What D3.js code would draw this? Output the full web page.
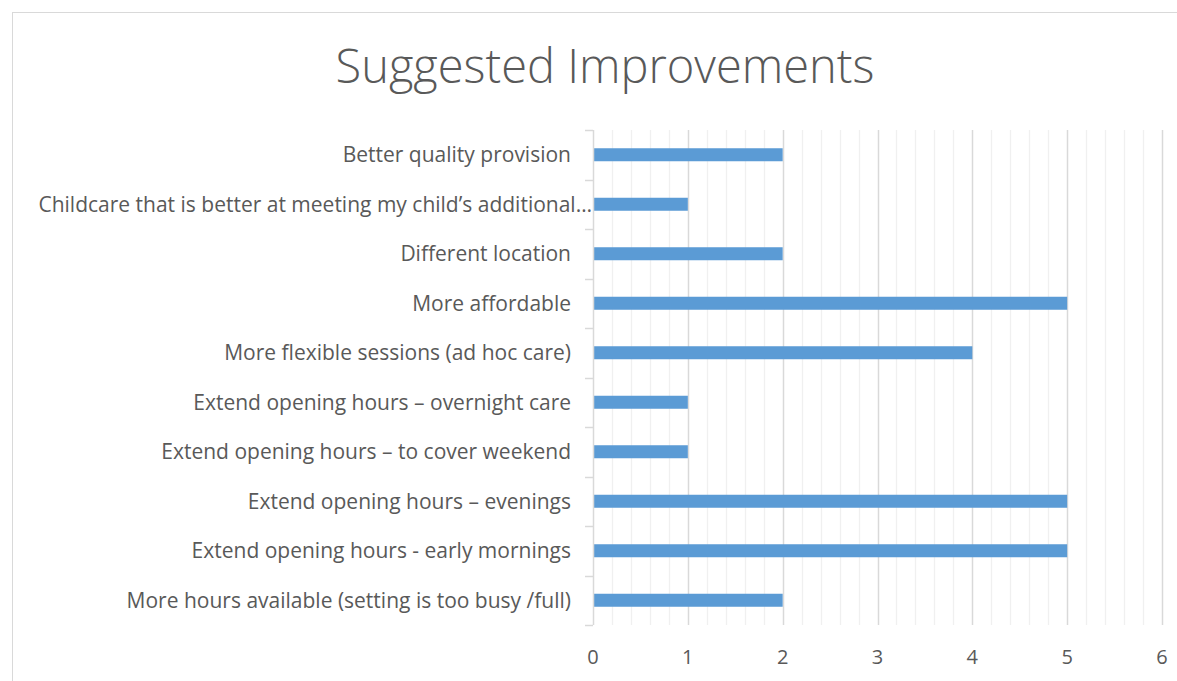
<!DOCTYPE html>
<html>
<head>
<meta charset="utf-8">
<script src="https://cdn.jsdelivr.net/npm/d3@7"></script>
<style>
  body { margin: 0; background: #fff; }
  text { font-family: "Open Sans", "Noto Sans", sans-serif; fill: #595959; }
</style>
</head>
<body>
<div id="chart"></div>
<script>
// categories top to bottom, as in the picture
var categories = [
  "Better quality provision",
  "Childcare that is better at meeting my child\u2019s additional\u2026",
  "Different location",
  "More affordable",
  "More flexible sessions (ad hoc care)",
  "Extend opening hours \u2013 overnight care",
  "Extend opening hours \u2013 to cover weekend",
  "Extend opening hours \u2013 evenings",
  "Extend opening hours - early mornings",
  "More hours available (setting is too busy /full)"
];
var counts = [2, 1, 2, 5, 4, 1, 1, 5, 5, 2];
var xTicks = [0, 1, 2, 3, 4, 5, 6];

var W = 1177, H = 681;
// plot area (top is a reserved window name, so use plotTop)
var plotLeft = 593, plotRight = 1162, plotTop = 130, plotBottom = 625;

var svg = d3.select("#chart").append("svg")
  .attr("width", W).attr("height", H);

// outer chart border
svg.append("rect")
  .attr("x", 12.5).attr("y", 12.5)
  .attr("width", W + 20).attr("height", H + 20)
  .attr("fill", "none").attr("stroke", "#d9d9d9");

var x = d3.scaleLinear().domain([0, 6]).range([plotLeft, plotRight]);
var y = d3.scaleBand().domain(categories).range([plotTop, plotBottom]);

// minor gridlines
var minor = d3.range(0, 30).map(function(i) { return i * 0.2; }).filter(function(v, i) { return i % 5 != 0; });
svg.append("g").selectAll("line")
  .data(minor).enter().append("line")
  .attr("x1", function(d) { return Math.round(x(d)) + 0.5; })
  .attr("x2", function(d) { return Math.round(x(d)) + 0.5; })
  .attr("y1", plotTop).attr("y2", plotBottom)
  .attr("stroke", "#f0f0f0").attr("stroke-width", 1.3);

// major gridlines
svg.append("g").selectAll("line")
  .data(xTicks.slice(1)).enter().append("line")
  .attr("x1", function(d) { return Math.round(x(d)) + 0.5; })
  .attr("x2", function(d) { return Math.round(x(d)) + 0.5; })
  .attr("y1", plotTop).attr("y2", plotBottom)
  .attr("stroke", "#d9d9d9").attr("stroke-width", 1.5);

// bars
var barH = 13;
svg.append("g").selectAll("rect")
  .data(counts).enter().append("rect")
  .attr("x", x(0))
  .attr("y", function(d, i) { return y(categories[i]) + y.bandwidth() / 2 - barH / 2; })
  .attr("width", function(d) { return x(d) - x(0); })
  .attr("height", barH)
  .attr("fill", "#5b9bd5");

// y axis line and ticks
svg.append("line")
  .attr("x1", plotLeft + 0.5).attr("x2", plotLeft + 0.5)
  .attr("y1", plotTop).attr("y2", plotBottom)
  .attr("stroke", "#d9d9d9").attr("stroke-width", 1.5);
svg.append("g").selectAll("line")
  .data(d3.range(categories.length + 1)).enter().append("line")
  .attr("x1", plotLeft - 8).attr("x2", plotLeft)
  .attr("y1", function(d) { return Math.round(plotTop + d * y.step()) + 0.5; })
  .attr("y2", function(d) { return Math.round(plotTop + d * y.step()) + 0.5; })
  .attr("stroke", "#d9d9d9").attr("stroke-width", 1.5);

// category labels
svg.append("g").selectAll("text")
  .data(categories).enter().append("text")
  .attr("x", function(d, i) { return i == 1 ? 592 : 571; })
  .attr("y", function(d) { return y(d) + y.bandwidth() / 2; })
  .attr("dy", "0.35em")
  .attr("text-anchor", "end")
  .style("font-size", "21px")
  .text(function(d) { return d; });

// x tick labels
svg.append("g").selectAll("text")
  .data(xTicks).enter().append("text")
  .attr("x", function(d) { return x(d); })
  .attr("y", 657)
  .attr("dy", "0.35em")
  .attr("text-anchor", "middle")
  .style("font-size", "20px")
  .text(function(d) { return d; });

// title
svg.append("text")
  .attr("x", 605).attr("y", 83)
  .attr("text-anchor", "middle")
  .style("font-size", "47px")
  .style("font-weight", 300)
  .text("Suggested Improvements");
</script>
</body>
</html>
